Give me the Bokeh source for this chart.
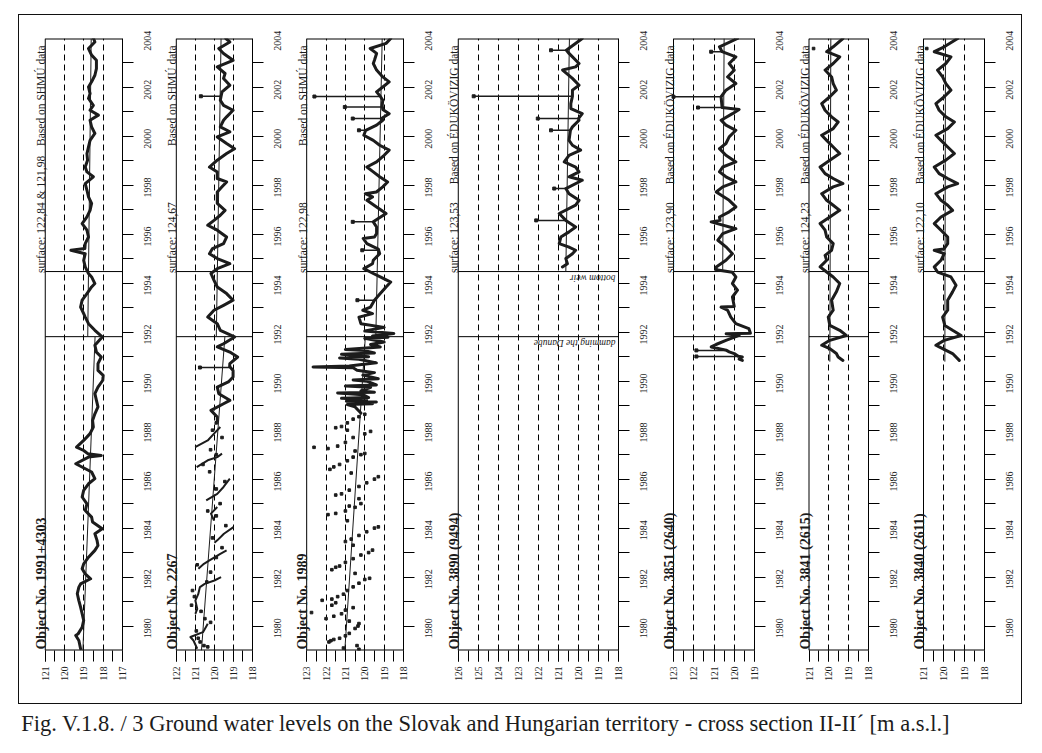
import math
from bokeh.plotting import figure
from bokeh.models import Range1d, FixedTicker, Label, CustomJSTickFormatter
from bokeh.layouts import row, column
from bokeh.embed import file_html
from bokeh.resources import INLINE
from bokeh.core.properties import value

# ---------------------------------------------------------------- data
panel_titles = ["Object No. 1991+4303", "Object No. 2267", "Object No. 1989",
                "Object No. 3890 (9494)", "Object No. 3851 (2640)",
                "Object No. 3841 (2615)", "Object No. 3840 (2611)"]
surface_texts = ["surface: 122,84 & 121,98", "surface: 124,67", "surface: 122,98",
                 "surface: 123,53", "surface: 123,90", "surface: 124,23", "surface: 122,10"]
source_texts = ["Based on SHMÚ data", "Based on SHMÚ data", "Based on SHMÚ data",
                "Based on ÉDUKÖVIZIG data", "Based on ÉDUKÖVIZIG data",
                "Based on ÉDUKÖVIZIG data", "Based on ÉDUKÖVIZIG data"]
level_hi = [121, 122, 123, 126, 123, 121, 121]
level_lo = [117, 118, 118, 118, 119, 118, 118]
year_labels = list(range(1980, 2005, 2))
YEAR_START, YEAR_END = 1980, 2005
DAMMING_YEAR = 1992.82
WEIR_YEAR = 1995.48
caption_text = ("Fig. V.1.8. / 3  Ground water levels on the Slovak and Hungarian territory"
                " - cross section II-II\u00b4 [m a.s.l.]")

p1_series = [(1980.07, 119.17), (1980.41, 119.26), (1980.61, 119.42), (1980.68, 119.30), (1980.95, 119.09),
             (1981.23, 119.01), (1981.50, 119.09), (1981.77, 119.17), (1982.04, 119.26), (1982.32, 119.34),
             (1982.59, 119.26), (1982.72, 119.17), (1982.93, 118.65), (1983.13, 118.93), (1983.34, 119.09),
             (1983.54, 119.01), (1983.81, 118.76), (1984.09, 118.43), (1984.29, 118.27), (1984.50, 118.32),
             (1984.77, 118.43), (1984.97, 118.05), (1985.25, 118.55), (1985.45, 118.60), (1985.72, 118.93),
             (1985.99, 118.84), (1986.27, 119.09), (1986.54, 119.01), (1986.81, 118.76), (1987.02, 118.43),
             (1987.29, 118.60), (1987.63, 119.42), (1987.90, 118.76), (1987.97, 118.10), (1988.04, 118.80),
             (1988.17, 119.01), (1988.31, 119.38), (1988.58, 119.01), (1988.86, 118.68), (1989.13, 118.51),
             (1989.40, 118.55), (1989.67, 118.43), (1989.95, 118.27), (1990.22, 118.35), (1990.49, 118.43),
             (1990.76, 118.27), (1991.04, 118.02), (1991.24, 118.00), (1991.44, 118.27), (1991.72, 118.27),
             (1991.99, 118.10), (1992.19, 118.35), (1992.47, 118.43), (1992.81, 118.05), (1993.08, 118.43),
             (1993.35, 118.76), (1993.62, 118.93), (1993.76, 119.01), (1994.03, 119.17), (1994.31, 119.09),
             (1994.58, 118.84), (1994.85, 118.60), (1994.99, 118.43), (1995.26, 118.60), (1995.40, 118.76),
             (1995.67, 118.93), (1995.94, 119.01), (1996.21, 118.93), (1996.35, 119.67), (1996.42, 118.95),
             (1996.62, 118.93), (1996.89, 118.76), (1997.17, 118.84), (1997.44, 119.09), (1997.71, 118.84),
             (1997.98, 118.68), (1998.26, 118.60), (1998.53, 118.76), (1998.80, 118.84), (1999.07, 118.93),
             (1999.35, 118.51), (1999.55, 118.84), (1999.75, 118.93), (2000.03, 118.81), (2000.30, 118.84),
             (2000.57, 118.76), (2000.84, 118.68), (2001.12, 118.43), (2001.39, 118.60), (2001.66, 118.68),
             (2001.87, 118.25), (2002.07, 118.68), (2002.27, 118.51), (2002.55, 118.76), (2002.75, 118.68),
             (2003.02, 118.76), (2003.23, 118.60), (2003.50, 118.43), (2003.77, 118.35), (2004.11, 118.35),
             (2004.32, 118.60), (2004.59, 118.76), (2004.86, 118.43), (2005.00, 118.50)]

p2_early_segments = [
    [(1980.07, 120.90), (1980.41, 121.10), (1980.55, 121.26), (1980.75, 120.60), (1980.95, 120.45), (1981.09, 120.35)],
    [(1981.50, 121.00), (1981.70, 120.90), (1982.04, 121.00), (1982.30, 120.85), (1982.59, 120.76),
     (1982.72, 120.51), (1982.86, 120.00), (1983.00, 119.65)],
    [(1983.34, 120.84), (1983.54, 120.55), (1983.68, 120.26), (1983.95, 119.69), (1984.09, 119.36)],
    [(1984.40, 120.00), (1984.50, 119.85), (1984.77, 119.50), (1985.04, 119.00)],
    [(1985.31, 120.02), (1985.59, 120.18), (1985.86, 119.85)],
    [(1986.13, 120.43), (1986.40, 119.85), (1986.68, 119.52), (1987.02, 119.19)],
    [(1987.49, 120.93), (1987.77, 120.35), (1987.90, 119.85), (1988.04, 119.60)],
    [(1988.31, 121.01), (1988.58, 120.35), (1988.86, 120.02), (1989.13, 119.69)],
]
p2_dots = [(1980.20, 120.55), (1980.35, 120.75), (1980.80, 120.95), (1981.30, 120.50), (1981.60, 120.70),
           (1981.85, 121.20), (1982.20, 121.05), (1982.45, 121.15), (1982.80, 120.40), (1983.20, 120.20),
           (1983.50, 120.90), (1983.80, 119.90), (1984.20, 119.60), (1984.60, 120.10), (1985.10, 119.40),
           (1985.50, 119.90), (1985.70, 120.35), (1986.00, 119.70), (1986.60, 119.90), (1986.90, 119.45),
           (1987.30, 120.25), (1987.60, 120.60), (1988.00, 119.90), (1988.20, 120.20), (1988.70, 119.60),
           (1989.00, 120.10), (1989.30, 119.90), (1980.15, 120.35), (1980.50, 120.85), (1981.15, 120.20)]
p2_series = [(1989.40, 119.85), (1989.54, 119.85), (1989.81, 120.18), (1990.08, 119.52), (1990.22, 119.19),
             (1990.49, 119.77), (1990.76, 119.85), (1990.97, 119.27), (1991.17, 119.02), (1991.44, 119.02),
             (1991.60, 119.20), (1991.72, 119.19), (1991.99, 118.78), (1992.19, 119.19),
             (1992.40, 119.85), (1992.53, 119.52), (1992.81, 118.94), (1993.08, 119.69), (1993.35, 119.85),
             (1993.62, 120.35), (1993.90, 120.02), (1994.10, 119.52), (1994.31, 119.02), (1994.58, 119.36),
             (1994.85, 119.85), (1995.12, 120.02), (1995.40, 120.18), (1995.60, 119.85), (1995.80, 119.19),
             (1996.01, 119.85), (1996.21, 120.26), (1996.42, 120.10), (1996.62, 119.52), (1996.89, 119.36),
             (1997.17, 119.85), (1997.37, 120.35), (1997.57, 120.02), (1997.78, 119.69), (1997.98, 119.44),
             (1998.26, 119.85), (1998.53, 119.85), (1998.73, 119.85), (1998.94, 119.60), (1999.14, 119.36),
             (1999.28, 119.85), (1999.55, 119.85), (1999.75, 120.26), (2000.03, 119.85), (2000.30, 119.36),
             (2000.50, 118.94), (2000.71, 119.36), (2000.98, 119.85), (2001.19, 119.19), (2001.39, 119.69),
             (2001.66, 119.52), (2001.80, 119.36), (2002.07, 119.02), (2002.27, 119.52), (2002.48, 119.69),
             (2002.64, 119.65), (2002.82, 119.60), (2003.09, 119.19),
             (2003.37, 119.52), (2003.57, 119.44), (2003.84, 119.85), (2004.11, 119.02), (2004.39, 119.52),
             (2004.59, 119.77), (2004.86, 119.19), (2005.00, 119.40)]
p2_spikes = [(1991.56, 119.20, 120.76), (2002.64, 119.65, 120.71)]

p3_dots = [(1980.05, 120.30), (1980.10, 121.10), (1980.20, 120.40), (1980.35, 121.85), (1980.40, 121.75),
           (1980.45, 121.60), (1980.50, 121.30), (1980.60, 121.00), (1980.70, 120.80), (1980.90, 120.50),
           (1981.00, 120.35), (1981.10, 120.30), (1981.20, 120.80), (1981.30, 122.00), (1981.40, 121.60),
           (1981.50, 121.20), (1981.55, 122.75), (1981.65, 121.00), (1981.75, 120.60), (1981.85, 121.70),
           (1981.95, 121.50), (1982.05, 122.20), (1982.10, 121.70), (1982.20, 121.40), (1982.30, 121.10),
           (1982.45, 120.90), (1982.60, 120.60), (1982.75, 120.30), (1982.90, 120.00), (1982.95, 119.75),
           (1983.15, 120.50), (1983.30, 121.70), (1983.40, 121.50), (1983.45, 121.30), (1983.60, 121.00),
           (1983.75, 120.60), (1983.90, 120.20), (1984.00, 119.80), (1984.10, 119.60), (1984.30, 120.60),
           (1984.45, 121.00), (1984.55, 120.70), (1984.70, 120.30), (1984.85, 119.90), (1985.00, 119.50),
           (1985.05, 119.30), (1985.30, 120.90), (1985.55, 121.90), (1985.60, 121.50), (1985.70, 121.00),
           (1985.85, 120.50), (1985.90, 120.80), (1986.00, 120.20), (1986.20, 120.30), (1986.35, 121.50),
           (1986.40, 121.20), (1986.55, 120.80), (1986.70, 120.30), (1986.85, 119.90), (1987.00, 119.50),
           (1987.10, 119.30), (1987.25, 120.70), (1987.40, 121.80), (1987.50, 121.60), (1987.60, 121.30),
           (1987.75, 120.90), (1987.90, 120.60), (1988.00, 120.20), (1988.05, 120.00), (1988.15, 120.50),
           (1988.25, 121.90), (1988.30, 122.62), (1988.35, 121.40), (1988.50, 121.00), (1988.70, 120.60),
           (1988.85, 120.00), (1988.95, 119.70), (1989.00, 120.90), (1989.10, 121.50), (1989.15, 121.20),
           (1989.30, 120.90), (1989.45, 120.60), (1989.55, 120.30), (1989.65, 120.00)]
p3_series = [(1989.70, 120.20), (1989.95, 120.50), (1990.05, 120.90), (1990.08, 119.60), (1990.12, 120.40),
             (1990.15, 119.40), (1990.18, 120.95), (1990.25, 119.90), (1990.30, 121.20), (1990.33, 119.80),
             (1990.45, 120.10), (1990.52, 121.40), (1990.55, 119.50), (1990.60, 120.20), (1990.75, 119.70),
             (1990.80, 121.00), (1990.85, 119.40), (1991.00, 119.90), (1991.05, 120.60), (1991.10, 119.30),
             (1991.25, 120.10), (1991.35, 119.50), (1991.45, 120.40), (1991.55, 120.60), (1991.58, 122.67),
             (1991.62, 120.80), (1991.75, 119.40), (1991.90, 120.30), (1991.95, 121.30), (1992.00, 119.80),
             (1992.10, 121.20), (1992.15, 119.50), (1992.25, 120.00), (1992.30, 121.00), (1992.40, 119.20),
             (1992.50, 119.70), (1992.60, 119.00), (1992.75, 120.00), (1992.80, 118.80), (1992.85, 119.60),
             (1992.95, 118.50), (1993.05, 120.00), (1993.20, 119.00), (1993.35, 120.20), (1993.62, 120.30),
             (1993.76, 119.60), (1993.90, 120.10), (1994.03, 119.70), (1994.31, 119.50),
             (1994.58, 119.20), (1994.85, 118.90), (1995.05, 118.66), (1995.26, 119.20),
             (1995.40, 119.56), (1995.60, 120.05), (1995.80, 119.60), (1995.94, 119.56), (1996.21, 119.23),
             (1996.40, 119.30), (1996.62, 119.89), (1996.83, 120.08), (1996.89, 119.50),
             (1997.03, 119.39), (1997.30, 119.39), (1997.51, 119.56), (1997.85, 118.90),
             (1998.12, 119.39), (1998.39, 119.89), (1998.53, 119.60), (1998.66, 119.97), (1998.73, 119.40),
             (1998.94, 119.07), (1999.14, 118.82), (1999.35, 119.23), (1999.55, 119.56), (1999.75, 119.89),
             (1999.96, 119.39), (2000.23, 119.00), (2000.44, 118.74), (2000.64, 119.23), (2000.84, 119.56),
             (2001.05, 120.05), (2001.25, 119.95), (2001.46, 119.39), (2001.66, 119.07),
             (2001.75, 119.10), (2001.93, 118.74), (2002.10, 119.07),
             (2002.25, 119.10), (2002.48, 119.07), (2002.64, 119.20), (2002.82, 119.39),
             (2003.02, 119.07), (2003.23, 118.74), (2003.43, 119.07), (2003.71, 119.39), (2003.98, 119.56),
             (2004.11, 119.50), (2004.39, 119.39), (2004.59, 119.72), (2004.80, 118.90), (2005.00, 118.66)]
p3_spikes = [(1994.31, 119.50, 120.38), (1996.35, 119.30, 120.13), (1997.51, 119.56, 120.62),
             (2001.25, 119.95, 120.30), (2001.73, 119.10, 120.62), (2002.20, 119.10, 121.03),
             (2002.63, 119.20, 122.60)]

p4_series = [(1995.67, 120.80), (1995.80, 120.55), (1996.01, 120.63), (1996.21, 120.30), (1996.35, 120.14),
             (1996.49, 120.50), (1996.62, 120.96), (1996.89, 120.88), (1997.10, 120.47), (1997.30, 120.14),
             (1997.57, 120.63), (1997.85, 120.96), (1998.19, 120.14),
             (1998.39, 119.97), (1998.66, 120.47), (1998.87, 120.63),
             (1999.21, 119.81), (1999.35, 120.47), (1999.55, 119.97), (1999.75, 120.14), (1999.96, 120.71),
             (2000.23, 120.47), (2000.44, 119.89), (2000.64, 120.30), (2000.84, 120.47), (2001.25, 120.40),
             (2001.39, 120.30), (2001.66, 119.97), (2001.73, 120.00),
             (2001.93, 119.81), (2002.14, 120.38), (2002.34, 120.38),
             (2002.64, 120.30), (2002.89, 120.30), (2003.09, 119.97),
             (2003.37, 120.30), (2003.71, 120.79), (2003.84, 120.14), (2003.98, 119.97), (2004.39, 120.47),
             (2004.52, 120.60), (2004.60, 120.47), (2005.00, 119.81)]
p4_spikes = [(1997.57, 120.63, 122.11), (1998.87, 120.63, 121.21), (2001.25, 120.40, 121.37),
             (2001.73, 120.00, 122.03), (2002.64, 120.30, 125.23), (2004.52, 120.60, 121.37)]

p5_series = [(1991.85, 119.60), (1991.90, 119.76), (1991.99, 119.60), (1992.02, 119.80),
             (1992.13, 120.00), (1992.20, 120.25), (1992.27, 120.40), (1992.40, 121.14),
             (1992.50, 120.90), (1992.67, 120.41), (1992.87, 119.76), (1992.94, 120.40), (1992.96, 119.20),
             (1993.15, 119.28), (1993.35, 119.92), (1993.62, 120.17), (1993.90, 120.33), (1994.03, 120.65),
             (1994.05, 120.00), (1994.44, 120.09), (1994.72, 119.84), (1994.99, 120.09), (1995.26, 119.92),
             (1995.45, 120.10), (1995.55, 120.89), (1995.67, 120.89), (1995.94, 120.41), (1996.21, 120.09),
             (1996.49, 120.41), (1996.76, 120.81), (1997.03, 120.57), (1997.23, 119.92), (1997.51, 121.14),
             (1997.57, 120.70), (1997.71, 120.73), (1997.92, 120.25), (1998.12, 119.92), (1998.39, 120.25),
             (1998.73, 120.89), (1998.94, 120.57), (1999.14, 119.92), (1999.35, 120.41), (1999.55, 120.73),
             (1999.75, 120.57), (1999.96, 119.92), (2000.23, 120.41), (2000.50, 120.73), (2000.71, 120.41),
             (2000.98, 120.25), (2001.25, 119.92), (2001.46, 120.41), (2001.66, 120.65), (2001.93, 120.09),
             (2002.10, 119.76), (2002.18, 120.60), (2002.62, 120.65), (2002.89, 120.41), (2003.16, 119.92),
             (2003.43, 120.33), (2003.71, 120.00), (2003.98, 120.25), (2004.25, 119.92), (2004.46, 120.60),
             (2004.66, 120.73), (2005.00, 119.84)]
p5_spikes = [(1992.01, 119.80, 121.87), (1992.26, 120.40, 121.87), (2002.18, 120.60, 121.79),
             (2002.62, 120.65, 123.00), (2004.46, 120.60, 121.14)]

p6_series = [(1991.85, 119.29), (1991.99, 119.53), (1992.13, 119.62), (1992.33, 119.95), (1992.47, 120.36),
             (1992.67, 119.95), (1992.87, 119.12), (1993.08, 119.45), (1993.28, 119.95), (1993.62, 120.03),
             (1993.90, 119.78), (1994.31, 119.86), (1994.65, 119.62), (1994.99, 119.45), (1995.26, 119.78),
             (1995.46, 120.11), (1995.67, 120.44), (1995.94, 120.11), (1996.14, 120.19), (1996.35, 119.86),
             (1996.62, 119.78), (1996.89, 120.11), (1997.17, 120.19), (1997.44, 120.44), (1997.71, 119.95),
             (1997.98, 119.45), (1998.19, 119.78), (1998.39, 120.11), (1998.66, 120.36), (1998.94, 119.78),
             (1999.07, 119.29), (1999.28, 119.78), (1999.48, 120.19), (1999.75, 120.44), (2000.03, 119.95),
             (2000.30, 119.45), (2000.57, 119.78), (2000.84, 120.11), (2001.05, 120.36), (2001.32, 119.78),
             (2001.59, 119.53), (2001.80, 119.86), (2002.07, 120.19), (2002.34, 120.36), (2002.62, 119.95),
             (2002.89, 119.62), (2003.16, 119.78), (2003.43, 119.86), (2003.71, 120.19), (2003.98, 119.78),
             (2004.25, 119.45), (2004.46, 120.11), (2004.66, 119.78), (2005.00, 119.29)]
p6_dots = [(2004.59, 120.77)]

p7_series = [(1991.85, 119.24), (1992.13, 119.57), (1992.40, 120.23), (1992.47, 120.39), (1992.67, 119.98),
             (1992.87, 119.15), (1993.08, 119.57), (1993.28, 119.95), (1993.62, 120.06), (1993.90, 119.81),
             (1994.31, 119.81), (1994.65, 119.57), (1994.92, 119.40), (1995.26, 119.65), (1995.46, 120.31),
             (1995.67, 120.47), (1995.94, 120.14), (1996.21, 119.98), (1996.35, 120.47), (1996.40, 120.00),
             (1996.62, 119.81), (1996.89, 119.81), (1997.17, 120.14), (1997.44, 120.47), (1997.71, 120.14),
             (1997.98, 119.57), (1998.19, 119.81), (1998.39, 120.14), (1998.66, 120.39), (1998.94, 119.81),
             (1999.07, 119.32), (1999.28, 119.81), (1999.48, 120.23), (1999.75, 120.47), (2000.03, 119.90),
             (2000.30, 119.48), (2000.57, 119.81), (2000.84, 120.14), (2001.05, 120.39), (2001.32, 119.81),
             (2001.59, 119.48), (2001.80, 119.90), (2002.07, 120.23), (2002.34, 120.39), (2002.62, 119.98),
             (2002.89, 119.65), (2003.16, 119.90), (2003.43, 120.06), (2003.71, 120.31), (2003.98, 119.90),
             (2004.25, 119.65), (2004.46, 120.47), (2004.66, 119.98), (2005.00, 119.32)]
p7_dots = [(2004.59, 120.84)]

trend_lines = [
    [[(1980.0, 119.05), (1992.82, 118.42)], [(1992.82, 118.80), (2005.0, 118.62)]],
    [[(1980.0, 120.68), (1992.82, 119.45)], [(1992.82, 119.90), (2005.0, 119.65)]],
    [[(1980.0, 121.03), (1992.82, 119.97)], [(1992.82, 119.43), (2005.0, 119.10)]],
    [[(1995.48, 120.63), (2005.0, 120.45)]],
    [[(1995.48, 120.57), (2005.0, 120.50)]],
    [[(1991.80, 119.95), (2005.0, 119.90)]],
    [[(1991.80, 119.95), (2005.0, 119.92)]],
]

main_series = [p1_series, p2_series, p3_series, p4_series, p5_series, p6_series, p7_series]
dot_series = [[], p2_dots, p3_dots, [], [], p6_dots, p7_dots]
early_segments = [[], p2_early_segments, [], [], [], [], []]
spike_series = [[], p2_spikes, p3_spikes, p4_spikes, p5_spikes, [], []]

# ---------------------------------------------------------------- layout
FONT = "Liberation Serif"
INK = "#1c1c1c"
frame_w = [81, 81, 101, 162, 81, 61, 61]      # width of the level box, px
border_l = [27, 20, 20, 20, 20, 20, 20]       # label strip left of the box, px
border_r = [30, 29, 30, 33, 35, 33, 37]       # year axis area, px
FIG_H = 688
B_TOP, B_BOTTOM = 23, 53


def xs_ys(pairs):
    return [lv for _, lv in pairs], [t for t, _ in pairs]


def make_panel(i):
    hi, lo = level_hi[i], level_lo[i]
    px_per_m = frame_w[i] / (hi - lo)
    x_start = hi + border_l[i] / px_per_m          # extra room on the left for the rotated labels
    p = figure(width=border_l[i] + frame_w[i] + border_r[i], height=FIG_H,
               x_range=Range1d(x_start, lo), y_range=Range1d(YEAR_START, YEAR_END),
               output_backend="svg", toolbar_location=None, y_axis_location="right",
               min_border_left=0, min_border_right=border_r[i],
               min_border_top=B_TOP, min_border_bottom=B_BOTTOM)
    p.outline_line_color = None
    p.background_fill_color = "white"
    p.border_fill_color = "white"

    xa = p.xaxis[0]
    xa.ticker = FixedTicker(ticks=list(range(lo, hi + 1)),
                            minor_ticks=[lo + 0.5 * k for k in range(2 * (hi - lo) + 1)])
    xa.major_tick_out = 11
    xa.major_tick_in = 0
    xa.minor_tick_out = 11
    xa.minor_tick_in = 0
    xa.major_tick_line_color = "black"
    xa.minor_tick_line_color = "black"
    xa.axis_line_color = None
    xa.major_label_orientation = math.pi / 2
    xa.major_label_standoff = 5
    xa.major_label_text_font = FONT
    xa.major_label_text_font_size = "9.5px"
    xa.major_label_text_color = INK

    ya = p.yaxis[0]
    ya.ticker = FixedTicker(ticks=[y + 0.5 for y in year_labels], minor_ticks=list(range(1981, 2005)))
    ya.formatter = CustomJSTickFormatter(code="return String(Math.floor(tick));")
    ya.major_tick_line_color = None
    ya.major_tick_out = 11
    ya.major_tick_in = 0
    ya.minor_tick_out = 11
    ya.minor_tick_in = 0
    ya.minor_tick_line_color = "black"
    ya.axis_line_color = "black"
    ya.major_label_orientation = math.pi / 2
    ya.major_label_standoff = 14
    ya.major_label_text_font = FONT
    ya.major_label_text_font_size = "10px"
    ya.major_label_text_color = INK

    p.xgrid.ticker = FixedTicker(ticks=list(range(lo + 1, hi)))
    p.xgrid.grid_line_color = "black"
    p.xgrid.grid_line_dash = "6 4"
    p.xgrid.grid_line_width = 1
    p.ygrid.visible = False

    # box of the panel (left edge, top and bottom edges; the right edge is the year axis line)
    p.segment(x0=[hi], y0=[YEAR_START], x1=[hi], y1=[YEAR_END], line_color="black", line_width=1)
    p.segment(x0=[hi, hi], y0=[YEAR_START, YEAR_END], x1=[lo, lo], y1=[YEAR_START, YEAR_END],
              line_color="black", line_width=2)
    # damming of the Danube and bottom weir
    p.segment(x0=[hi, hi], y0=[DAMMING_YEAR, WEIR_YEAR], x1=[lo, lo], y1=[DAMMING_YEAR, WEIR_YEAR],
              line_color="black", line_width=1)

    for seg in trend_lines[i]:
        x, y = xs_ys(seg)
        p.line(x, y, line_color=INK, line_width=1)

    if early_segments[i]:
        xs = [xs_ys(s)[0] for s in early_segments[i]]
        ys = [xs_ys(s)[1] for s in early_segments[i]]
        p.multi_line(xs, ys, line_color=INK, line_width=2, line_join="round")
    if dot_series[i]:
        x, y = xs_ys(dot_series[i])
        p.scatter(x, y, marker="square", size=2.6, color=INK)

    if spike_series[i]:
        sy = [t for t, _, _ in spike_series[i]]
        s0 = [a for _, a, _ in spike_series[i]]
        s1 = [b for _, _, b in spike_series[i]]
        p.segment(x0=s0, y0=sy, x1=s1, y1=sy, line_color=INK, line_width=1.5)
        p.scatter(s1, sy, marker="square", size=3, color=INK)

    x, y = xs_ys(main_series[i])
    p.line(x, y, line_color=INK, line_width=3, line_join="round", line_cap="round")

    # rotated texts left of the box
    p.text(x=[hi], y=[1980.04], x_offset=-4, text=[panel_titles[i]], angle=math.pi / 2,
           text_align="left", text_baseline="alphabetic", text_font=value(FONT),
           text_font_size="14px", text_font_style="bold", text_color=INK)
    p.text(x=[hi], y=[1995.42], x_offset=-4, text=[surface_texts[i]], angle=math.pi / 2,
           text_align="left", text_baseline="alphabetic", text_font=value(FONT),
           text_font_size="11.5px", text_color=INK)
    p.text(x=[hi], y=[2004.72], x_offset=-4, text=[source_texts[i]], angle=math.pi / 2,
           text_align="right", text_baseline="alphabetic", text_font=value(FONT),
           text_font_size="11.5px", text_color=INK)

    if i == 3:
        p.add_layout(Label(x=118.15, y=WEIR_YEAR - 0.05, text="bottom weir", angle=math.pi,
                           text_align="left", text_baseline="bottom", text_font=FONT,
                           text_font_size="9.5px", text_font_style="italic", text_color=INK))
        p.add_layout(Label(x=118.15, y=DAMMING_YEAR - 0.05, text="damming the Danube", angle=math.pi,
                           text_align="left", text_baseline="bottom", text_font=FONT,
                           text_font_size="9.5px", text_font_style="italic", text_color=INK))
    return p


panels = [make_panel(i) for i in range(7)]
body = row(*panels, margin=(14, 0, 0, 18), styles={"border": "1px solid #111"})

cap = figure(width=1010, height=36, x_range=Range1d(0, 1010), y_range=Range1d(36, 0),
             output_backend="svg", toolbar_location=None, min_border=0)
cap.axis.visible = False
cap.grid.visible = False
cap.outline_line_color = None
cap.text(x=[20.7], y=[19.3], text=[caption_text], text_font=value(FONT), text_font_size="22.5px",
         text_baseline="alphabetic", text_align="left", text_color=INK)

layout = column(body, cap)
open("out.html", "w").write(file_html(layout, INLINE))
